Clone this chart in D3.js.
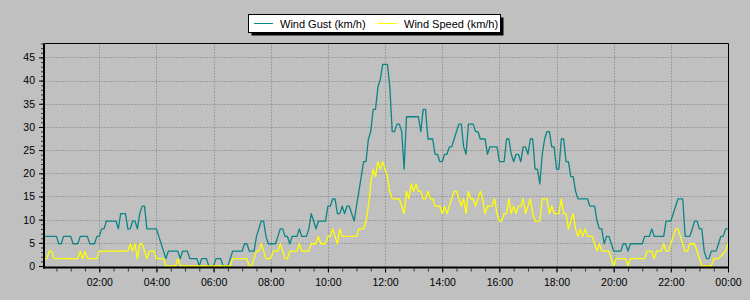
<!DOCTYPE html>
<html><head><meta charset="utf-8">
<script src="https://cdn.jsdelivr.net/npm/d3@7"></script>
<style>
html,body{margin:0;padding:0;background:#c0c0c0;}
svg{display:block;}
text{font-family:"Liberation Sans",Arial,sans-serif;fill:#000;}
</style></head><body>
<svg id="chart" width="750" height="300"></svg>
<script>
// ---- data ----
const seriesNames = ["Wind Gust (km/h)", "Wind Speed (km/h)"];
const seriesColors = ["#0b8585", "#ffff00"];
const startMinute = 5;      // first reading 00:05
const stepMinutes = 5;      // one reading every 5 minutes, last at 24:00
// one row per hour (h:05 ... h+1:00)
const windGust = [
  6.4,6.4,6.4,6.4,6.4,6.4,4.8,4.8,6.4,6.4,6.4,6.4,
  4.8,4.8,4.8,6.4,6.4,6.4,6.4,4.8,4.8,4.8,6.4,6.4,
  8.0,8.0,9.7,9.7,9.7,9.7,9.7,8.0,11.3,11.3,11.3,8.0,
  8.0,9.7,9.7,8.0,11.3,12.9,12.9,8.0,8.0,8.0,8.0,8.0,
  6.4,4.8,3.2,1.6,3.2,3.2,3.2,3.2,3.2,1.6,3.2,3.2,
  3.2,1.6,1.6,1.6,1.6,0,1.6,1.6,1.6,0,0,0,
  1.6,1.6,1.6,0,0,0,1.6,3.2,3.2,3.2,3.2,3.2,
  4.8,4.8,3.2,3.2,3.2,6.4,8.0,9.7,9.7,6.4,4.8,4.8,
  4.8,4.8,6.4,8.0,8.0,6.4,6.4,4.8,6.4,6.4,6.4,8.0,
  6.4,6.4,6.4,8.0,11.3,9.7,8.0,9.7,9.7,9.7,9.7,12.9,
  12.9,14.5,14.5,11.3,11.3,12.9,11.3,12.9,12.9,11.3,9.7,12.9,
  16.1,19.3,22.5,22.5,27.4,29.0,33.8,33.8,38.6,40.2,43.5,43.5,
  43.5,38.6,29.0,29.0,30.6,30.6,29.0,20.9,32.2,32.2,32.2,32.2,
  32.2,32.2,29.0,33.8,33.8,27.4,27.4,27.4,24.1,24.1,22.5,22.5,
  24.1,24.1,25.7,25.7,27.4,29.0,30.6,30.6,25.7,24.1,30.6,30.6,
  30.6,29.0,29.0,27.4,27.4,27.4,24.1,25.7,25.7,25.7,25.7,22.5,
  22.5,22.5,27.4,27.4,24.1,22.5,24.1,24.1,22.5,25.7,25.7,24.1,
  27.4,27.4,20.9,20.9,17.7,24.1,27.4,29.0,29.0,25.7,25.7,20.9,
  20.9,27.4,27.4,22.5,22.5,19.3,19.3,16.1,14.5,14.5,14.5,14.5,
  14.5,12.9,12.9,12.9,9.7,8.0,8.0,4.8,6.4,6.4,4.8,3.2,
  3.2,3.2,3.2,4.8,4.8,3.2,4.8,4.8,4.8,4.8,4.8,4.8,
  6.4,6.4,6.4,8.0,6.4,6.4,6.4,6.4,6.4,9.7,9.7,9.7,
  11.3,12.9,14.5,14.5,14.5,6.4,6.4,6.4,8.0,9.7,9.7,8.0,
  8.0,3.2,1.6,1.6,3.2,3.2,3.2,4.8,6.4,6.4,8.0,8.0
];
const windSpeed = [
  1.6,1.6,3.2,3.2,1.6,1.6,1.6,1.6,1.6,1.6,1.6,1.6,
  1.6,1.6,1.6,3.2,1.6,3.2,1.6,1.6,1.6,1.6,1.6,3.2,
  3.2,3.2,3.2,3.2,3.2,3.2,3.2,3.2,3.2,3.2,3.2,3.2,
  4.8,3.2,4.8,1.6,4.8,4.8,3.2,1.6,3.2,3.2,3.2,1.6,
  1.6,1.6,1.6,0,0,0,0,0,1.6,0,0,0,
  0,0,0,0,0,0,0,0,0,0,0,0,
  0,0,0,0,0,0,0,1.6,1.6,1.6,1.6,1.6,
  1.6,1.6,0,0,1.6,3.2,3.2,4.8,3.2,1.6,1.6,1.6,
  3.2,3.2,3.2,4.8,3.2,1.6,1.6,3.2,3.2,3.2,3.2,4.8,
  3.2,3.2,3.2,3.2,4.8,4.8,4.8,6.4,4.8,4.8,4.8,6.4,
  6.4,8.0,6.4,4.8,8.0,6.4,6.4,6.4,6.4,6.4,6.4,6.4,
  8.0,8.0,8.0,9.7,12.9,17.7,20.9,19.3,22.5,20.9,22.5,20.9,
  19.3,16.1,14.5,14.5,14.5,14.5,12.9,11.3,16.1,14.5,17.7,16.1,
  17.7,16.1,16.1,14.5,14.5,16.1,14.5,14.5,12.9,12.9,12.9,11.3,
  12.9,11.3,12.9,14.5,16.1,16.1,14.5,12.9,14.5,11.3,16.1,14.5,
  14.5,12.9,14.5,16.1,14.5,11.3,12.9,12.9,12.9,14.5,11.3,9.7,
  9.7,11.3,11.3,14.5,11.3,12.9,11.3,12.9,12.9,14.5,11.3,12.9,
  14.5,11.3,9.7,9.7,9.7,14.5,14.5,14.5,11.3,12.9,11.3,11.3,
  11.3,14.5,11.3,11.3,8.0,9.7,11.3,8.0,6.4,8.0,6.4,8.0,
  6.4,6.4,6.4,4.8,3.2,4.8,3.2,3.2,3.2,3.2,1.6,0,
  1.6,1.6,1.6,1.6,1.6,0,1.6,1.6,1.6,1.6,1.6,1.6,
  1.6,3.2,3.2,3.2,1.6,3.2,3.2,3.2,4.8,3.2,3.2,4.8,
  6.4,8.0,8.0,6.4,4.8,3.2,3.2,4.8,4.8,4.8,3.2,1.6,
  0,0,0,0,0,1.6,1.6,1.6,2.1,2.7,3.2,4.8
];
const yTickValues = [0,5,10,15,20,25,30,35,40,45];
const yMax = 48;
const xTickMinutes = [120,240,360,480,600,720,840,960,1080,1200,1320,1440];
const xTickLabels = ["02:00","04:00","06:00","08:00","10:00","12:00","14:00","16:00","18:00","20:00","22:00","00:00"];

// ---- drawing ----
const svg = d3.select("#chart");
const L = 44.5, R = 728, T = 43.5, B = 266;
const times = windGust.map((_, i) => startMinute + i * stepMinutes);
const x = d3.scaleLinear().domain([startMinute, 1440]).range([L, R]);
const y = d3.scaleLinear().domain([0, yMax]).range([B, T]);

// grid
const grid = svg.append("g").attr("stroke", "#7c7c7c").attr("stroke-dasharray", "1,2").attr("stroke-width", 1);
grid.selectAll("line.h").data(yTickValues.filter(v => v > 0)).join("line")
  .attr("x1", L).attr("x2", R)
  .attr("y1", d => Math.round(y(d)) + 0.5).attr("y2", d => Math.round(y(d)) + 0.5);
grid.selectAll("line.v").data(xTickMinutes.filter(m => m < 1440)).join("line")
  .attr("y1", T).attr("y2", B + 1)
  .attr("x1", d => Math.round(x(d)) + 0.5).attr("x2", d => Math.round(x(d)) + 0.5);

// series
const line = d3.line().x((d, i) => x(times[i])).y(d => y(d));
[windGust, windSpeed].forEach((s, k) => {
  svg.append("path").datum(s).attr("fill", "none")
    .attr("stroke", seriesColors[k]).attr("stroke-width", 1.3)
    .attr("stroke-linejoin", "round").attr("d", line);
});

// frame top/right
svg.append("line").attr("x1", L).attr("x2", R + 0.5).attr("y1", T).attr("y2", T).attr("stroke", "#000").attr("stroke-width", 1);
svg.append("line").attr("x1", R + 0.5).attr("x2", R + 0.5).attr("y1", T).attr("y2", B + 2).attr("stroke", "#000").attr("stroke-width", 1);

// y axis
const yMinor = svg.append("g").attr("transform", `translate(${L - 0.5},0)`)
  .call(d3.axisLeft(y).tickValues(d3.range(0, yMax + 1, 1)).tickSize(3).tickFormat(""));
yMinor.select(".domain").remove();
yMinor.selectAll("line").attr("stroke", "#333");
const yAx = svg.append("g").attr("transform", `translate(${L - 0.5},0)`)
  .call(d3.axisLeft(y).tickValues(yTickValues).tickSize(5).tickPadding(4).tickFormat(d3.format("d")));
yAx.select(".domain").attr("stroke", "#000").attr("stroke-width", 2).attr("d", `M0,${T}V${B + 2.5}`);
yAx.selectAll("line").attr("stroke", "#000");
yAx.selectAll("text").attr("font-size", 10.5).attr("font-family", "Liberation Sans, Arial, sans-serif");

// x axis
const xMinor = svg.append("g").attr("transform", `translate(0,${B + 2.5})`)
  .call(d3.axisBottom(x).tickValues(d3.range(30, 1441, 30)).tickSize(3).tickFormat(""));
xMinor.select(".domain").remove();
xMinor.selectAll("line").attr("stroke", "#333");
const xAx = svg.append("g").attr("transform", `translate(0,${B + 2.5})`)
  .call(d3.axisBottom(x).tickValues(xTickMinutes).tickSize(4).tickPadding(6)
    .tickFormat((d, i) => xTickLabels[i]));
xAx.select(".domain").attr("stroke", "#000").attr("stroke-width", 2).attr("d", `M${L - 1.5},-1V-1H${R + 1}`);
xAx.selectAll("line").attr("stroke", "#000");
xAx.selectAll("text").attr("font-size", 10.5).attr("font-family", "Liberation Sans, Arial, sans-serif");

// legend
const lg = svg.append("g");
lg.append("rect").attr("x", 251.5).attr("y", 17.5).attr("width", 252).attr("height", 18).attr("fill", "#000");
lg.append("rect").attr("x", 248.5).attr("y", 14.5).attr("width", 252).attr("height", 18)
  .attr("fill", "#fff").attr("stroke", "#000").attr("stroke-width", 1);
const legendX = [[254, 273, 280], [377, 397, 404]];
seriesNames.forEach((n, k) => {
  lg.append("line").attr("x1", legendX[k][0]).attr("x2", legendX[k][1]).attr("y1", 23.5).attr("y2", 23.5)
    .attr("stroke", seriesColors[k]).attr("stroke-width", 1);
  lg.append("text").attr("x", legendX[k][2]).attr("y", 27.5).attr("font-size", 11).text(n);
});
</script>
</body></html>
